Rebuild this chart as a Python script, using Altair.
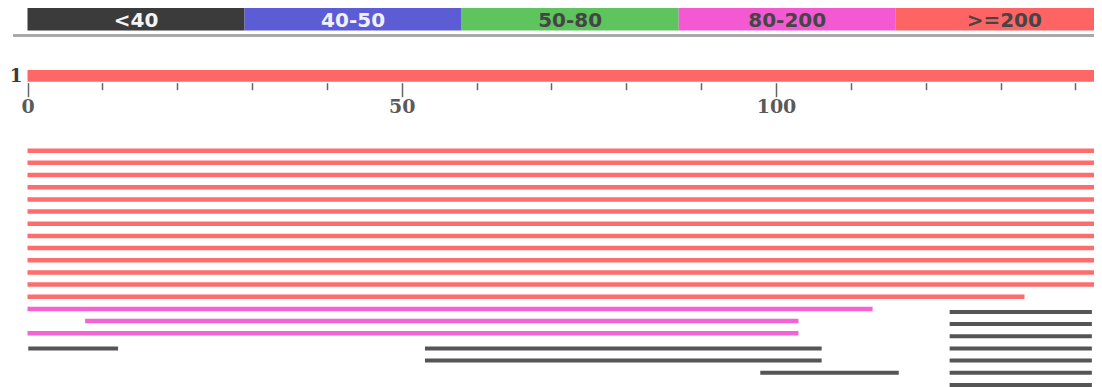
import altair as alt
import pandas as pd

# ---- data ----
legend_labels = ["<40", "40-50", "50-80", "80-200", ">=200"]
legend_start = [0, 29, 58, 87, 116]
legend_end = [29, 58, 87, 116, 145]
legend_colors = ["#3b3b3b", "#5c5cd4", "#5ec45e", "#f35ad2", "#ff6464"]
legend_text_colors = ["#f4f4f4", "#f0f0ff", "#454545", "#454545", "#454545"]

query_label = ["1"]
query_start = [0]
query_end = [145]

hit_row = [1, 2, 3, 4, 5, 6, 7, 8, 9, 10, 11, 12, 13,
           14, 15, 16, 17, 17, 18,
           14, 15, 16, 17, 18, 19, 20, 19]
hit_start = [0, 0, 0, 0, 0, 0, 0, 0, 0, 0, 0, 0, 0,
             0, 7.7, 0, 0.1, 53.1, 53.1,
             123.2, 123.2, 123.2, 123.2, 123.2, 123.2, 123.2, 97.9]
hit_end = [145, 145, 145, 145, 145, 145, 145, 145, 145, 145, 145, 145, 133.2,
           112.9, 103.0, 103.0, 12.1, 106.1, 106.1,
           142.2, 142.2, 142.2, 142.2, 142.2, 142.2, 142.2, 116.4]
hit_score = [">=200"] * 13 + ["80-200"] * 3 + ["<40"] * 11

tick_values = list(range(0, 150, 10))

# ---- tables ----
legend_df = pd.DataFrame({"label": legend_labels, "start": legend_start, "end": legend_end,
                          "tcolor": legend_text_colors})
legend_df["mid"] = (legend_df["start"] + legend_df["end"]) / 2
query_df = pd.DataFrame({"label": query_label, "start": query_start, "end": query_end})
hits_df = pd.DataFrame({"row": hit_row, "start": hit_start, "end": hit_end, "score": hit_score})

W, H = 1086, 379
PX = 7.485          # pixels per residue
X0 = 19.5           # pixel of residue 0
ROW_PX = 12.17
ROW1 = 142.7
xscale = alt.Scale(domain=[-X0 / PX, (W - X0) / PX], nice=False, zero=False)
ylo = 1 - ROW1 / ROW_PX
yscale = alt.Scale(domain=[ylo, ylo + H / ROW_PX], reverse=True, nice=False, zero=False)
cscale = alt.Scale(domain=legend_labels, range=legend_colors)

axis = alt.Axis(
    orient="bottom", offset=-(H - 74.7), values=tick_values, domain=False, grid=False,
    tickColor="#666666", tickWidth=1.5,
    tickSize={"condition": {"test": "datum.value % 50 === 0", "value": 14}, "value": 7},
    labelExpr="datum.value % 50 === 0 ? datum.label : ''",
    labelFont="DejaVu Serif", labelFontSize=19, labelFontWeight="bold", labelColor="#5a5a5a",
    labelPadding=1, title=None,
)

legend_rects = alt.Chart(legend_df).mark_rect().encode(
    x=alt.X("start:Q", scale=xscale, axis=axis),
    x2="end:Q",
    y=alt.value(0), y2=alt.value(22.5),
    color=alt.Color("label:N", scale=cscale, legend=None),
)
legend_text = alt.Chart(legend_df).mark_text(
    font="DejaVu Sans", fontSize=20, fontWeight="bold", baseline="middle", align="center"
).encode(
    x=alt.X("mid:Q", scale=xscale),
    y=alt.value(12.5),
    text="label:N",
    color=alt.Color("tcolor:N", scale=None),
)
separator = alt.Chart(legend_df).mark_rule(color="#a8a8a8", strokeWidth=2).encode(
    x=alt.value(5), x2=alt.value(W), y=alt.value(27.5)
)
query_bar = alt.Chart(query_df).mark_rect(color="#ff6666").encode(
    x=alt.X("start:Q", scale=xscale), x2="end:Q",
    y=alt.value(62), y2=alt.value(73.7),
)
query_text = alt.Chart(query_df).mark_text(
    font="DejaVu Serif", fontSize=18, fontWeight="bold", color="#3a3a3a",
    align="center", baseline="middle"
).encode(x=alt.value(8), y=alt.value(68.5), text="label:N")

hits_main = alt.Chart(hits_df).transform_filter("datum.score != '<40'").mark_rule(
    strokeWidth=4.5, strokeCap="butt", opacity=0.95
).encode(
    x=alt.X("start:Q", scale=xscale), x2="end:Q",
    y=alt.Y("row:Q", scale=yscale, axis=None),
    color=alt.Color("score:N", scale=cscale, legend=None),
)
hits_low = alt.Chart(hits_df).transform_filter("datum.score == '<40'").mark_rule(
    strokeWidth=4, strokeCap="butt", yOffset=3, color="#555555"
).encode(
    x=alt.X("start:Q", scale=xscale), x2="end:Q",
    y=alt.Y("row:Q", scale=yscale, axis=None),
)

chart = alt.layer(
    legend_rects, legend_text, separator, query_bar, query_text, hits_main, hits_low
).properties(
    width=W, height=H, padding=0, autosize=alt.AutoSizeParams(type="none"),
    background="white",
).configure_view(stroke=None)

chart.save("out.html", embed_options={"renderer": "svg", "actions": False})
